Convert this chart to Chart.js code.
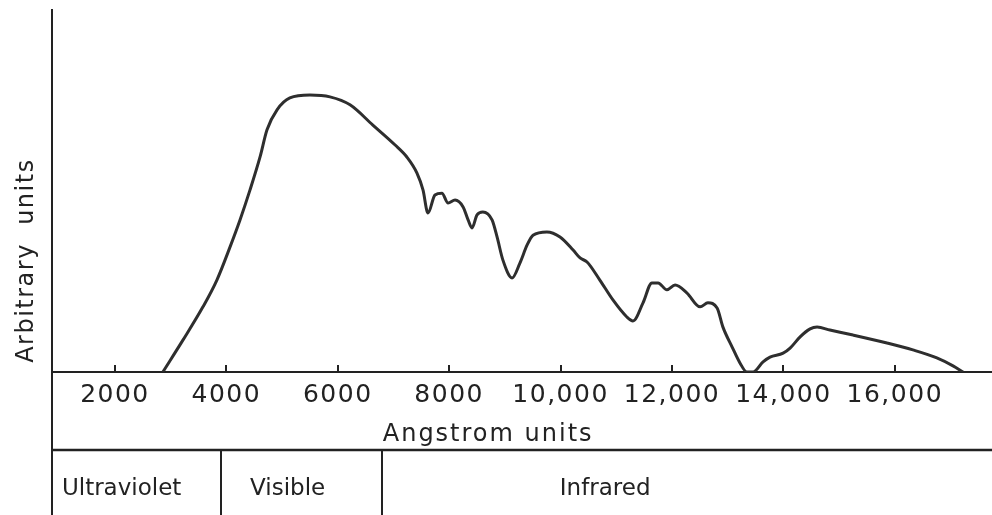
<!DOCTYPE html>
<html>
<head>
<meta charset="utf-8">
<script src="https://cdn.jsdelivr.net/npm/chart.js@4"></script>
<style>
  body { margin: 0; background: #fff; }
  #wrap { width: 992px; height: 515px; }
</style>
</head>
<body>
<div id="wrap"><canvas id="spectrum"></canvas></div>
<script>
// wavelength (Angstrom) and relative intensity of the curve
const wavelengths = [
  2860, 3220, 3580, 3830, 4065, 4245, 4425, 4605, 4730, 4910,
  5140, 5500, 5860, 6220, 6630, 7030, 7240, 7420, 7530, 7620,
  7745, 7870, 7980, 8105, 8250, 8340, 8410, 8500, 8605, 8770,
  8860, 8965, 9130, 9270, 9400, 9505, 9755, 9990, 10225, 10350,
  10475, 10705, 10940, 11190, 11300, 11480, 11640, 11750, 11910, 12055,
  12270, 12505, 12645, 12810, 12915, 13080, 13220, 13345, 13455, 13635,
  13760, 13995, 14120, 14300, 14480, 14605, 14835, 15250, 15860, 16325,
  16755, 17045, 17225
];
const intensity = [
  0, 8.8, 18.0, 25.4, 34.5, 42.0, 50.3, 59.4, 66.9, 72.4,
  75.7, 76.5, 76.0, 73.8, 68.2, 62.7, 59.4, 55.0, 50.3, 43.9,
  48.9, 49.4, 46.7, 47.5, 45.6, 42.0, 39.8, 43.4, 44.2, 42.0,
  37.3, 30.9, 26.0, 30.1, 35.1, 37.8, 38.7, 37.3, 33.7, 31.5,
  30.4, 25.4, 19.9, 15.2, 14.1, 19.1, 24.6, 24.6, 22.7, 24.0,
  21.8, 18.0, 19.1, 17.7, 12.4, 6.9, 2.5, 0, 0, 2.8,
  4.1, 5.2, 6.6, 9.7, 11.9, 12.4, 11.6, 10.2, 8.0, 6.1,
  3.9, 1.7, 0
];

const tickValues = [2000, 4000, 6000, 8000, 10000, 12000, 14000, 16000];
const tickLabels = ['2000', '4000', '6000', '8000', '10,000', '12,000', '14,000', '16,000'];

// spectral regions under the axis
const bandNames = ['Ultraviolet', 'Visible', 'Infrared'];
const bandEdges = [3900, 6800];
const bandLabelAt = [2120, 5100, 10800];

const ink = '#222';
const FONT = 'DejaVu Sans';

const spectrumFrame = {
  id: 'spectrumFrame',
  beforeDraw(chart) {
    chart.ctx.letterSpacing = '1.5px';
  },
  afterDraw(chart) {
    const ctx = chart.ctx;
    const xs = chart.scales.x;
    const top = chart.chartArea.bottom;
    const rowY = 450;
    const h = chart.height;
    ctx.save();
    ctx.strokeStyle = ink;
    ctx.lineWidth = 2.5;
    ctx.beginPath();
    ctx.moveTo(xs.left, rowY);
    ctx.lineTo(xs.right, rowY);
    ctx.stroke();
    ctx.lineWidth = 2;
    ctx.beginPath();
    ctx.moveTo(xs.left, top);
    ctx.lineTo(xs.left, h);
    bandEdges.forEach(v => {
      const px = Math.round(xs.getPixelForValue(v));
      ctx.moveTo(px, rowY);
      ctx.lineTo(px, h);
    });
    ctx.stroke();

    ctx.fillStyle = ink;
    ctx.textBaseline = 'middle';
    ctx.textAlign = 'center';
    ctx.letterSpacing = '2px';
    ctx.font = '24px "' + FONT + '"';
    ctx.fillText('Angstrom units', xs.getPixelForValue(8700), 435);

    ctx.letterSpacing = '0px';
    ctx.font = '23px "' + FONT + '"';
    bandNames.forEach((name, i) => {
      ctx.fillText(name, xs.getPixelForValue(bandLabelAt[i]), 489);
    });
    ctx.restore();
  }
};

new Chart(document.getElementById('spectrum'), {
  type: 'line',
  data: {
    datasets: [{
      data: wavelengths.map((w, i) => ({ x: w, y: intensity[i] })),
      borderColor: '#2e2e2e',
      borderWidth: 3,
      pointRadius: 0,
      cubicInterpolationMode: 'monotone',
      fill: false
    }]
  },
  options: {
    responsive: true,
    maintainAspectRatio: false,
    animation: false,
    devicePixelRatio: 1,
    layout: { padding: { top: 10, left: 0, right: 0, bottom: 0 } },
    plugins: {
      legend: { display: false },
      tooltip: { enabled: false }
    },
    scales: {
      x: {
        type: 'linear',
        min: 870,
        max: 17745,
        afterBuildTicks: scale => {
          scale.ticks = tickValues.map(v => ({ value: v }));
        },
        afterFit: scale => { scale.height = 143; },
        border: { color: ink, width: 2 },
        grid: {
          drawOnChartArea: false,
          tickLength: -7,
          color: ink,
          lineWidth: 2
        },
        ticks: {
          autoSkip: false,
          maxRotation: 0,
          padding: 15,
          color: ink,
          font: { family: FONT, size: 25 },
          callback: value => tickLabels[tickValues.indexOf(value)]
        }
      },
      y: {
        min: 0,
        max: 100,
        afterFit: scale => { scale.width = 52; },
        border: { color: ink, width: 2 },
        grid: { display: false },
        ticks: { display: false },
        title: {
          display: true,
          text: ' Arbitrary  units',
          align: 'start',
          color: ink,
          font: { family: FONT, size: 24 },
          padding: { top: 12.6, bottom: 0 }
        }
      }
    }
  },
  plugins: [spectrumFrame]
});
</script>
</body>
</html>
